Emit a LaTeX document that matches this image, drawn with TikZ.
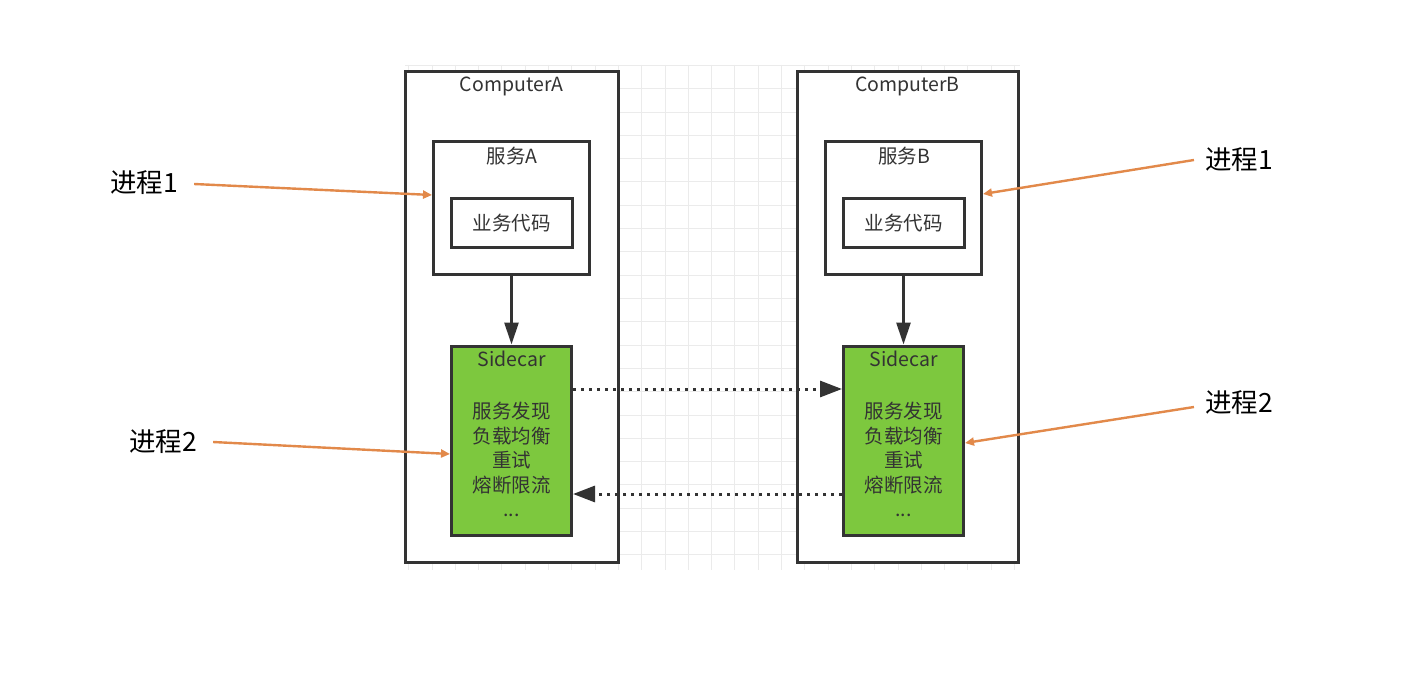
\documentclass[tikz,border=0pt]{standalone}
\usepackage{fontspec}
\setmainfont{Noto Sans CJK SC}
\usetikzlibrary{arrows.meta}
\definecolor{bd}{HTML}{333333}
\definecolor{sgreen}{HTML}{7DC83E}
\definecolor{org}{HTML}{E2894A}
\definecolor{gridc}{HTML}{EBEBEB}
\tikzset{
  box/.style={draw=bd, line width=3pt, fill=white, inner sep=0pt},
  greenbox/.style={draw=bd, line width=3pt, fill=sgreen, inner sep=0pt},
  txt/.style={text=bd, font=\fontsize{19.5}{24}\selectfont, inner sep=0pt},
  lbl/.style={text=black, font=\fontsize{26.5}{30}\selectfont, inner sep=0pt},
  solidarrow/.style={draw=bd, line width=2.8pt, -{Triangle[length=22pt,width=14pt]}},
  dotarrow/.style={draw=bd, line width=3pt, dash pattern=on 3pt off 5pt, -{Triangle[length=22pt,width=16pt]}},
  orgarrow/.style={draw=org, line width=2.4pt, -{Triangle[length=9pt,width=8pt]}},
  gridline/.style={draw=gridc, line width=1pt},
}
\begin{document}
\begin{tikzpicture}[x=1pt,y=-1pt]
\useasboundingbox[fill=white] (0,0) rectangle (1408,676);
% background grid
\foreach \i in {0,...,26} {
  \draw[gridline] ({408.7+\i*23.3},65) -- ({408.7+\i*23.3},570);
}
\foreach \j in {0,...,21} {
  \draw[gridline] (405,{65.5+\j*23.3}) -- (1020,{65.5+\j*23.3});
}
% computers
\node[box, minimum width=213pt, minimum height=490pt] (ca) at (511.5,317) {};
\node[box, minimum width=221pt, minimum height=490pt] (cb) at (907.5,317) {};
\node[txt] (cat) at (511.5,86) {ComputerA};
\node[txt] (cbt) at (907.5,86) {ComputerB};
% services
\node[box, minimum width=156pt, minimum height=133pt] (sa) at (511.5,208.5) {};
\node[box, minimum width=156pt, minimum height=133pt] (sb) at (903.5,208.5) {};
\node[txt] (sat) at (512,156) {服务A};
\node[txt] (sbt) at (904,156) {服务B};
\node[box, minimum width=121pt, minimum height=49pt, txt] (ya) at (511.5,223.5) {业务代码};
\node[box, minimum width=121pt, minimum height=49pt, txt] (yb) at (903.5,223.5) {业务代码};
% sidecars
\node[greenbox, minimum width=120pt, minimum height=189pt] (sca) at (511.5,440.5) {};
\node[greenbox, minimum width=120pt, minimum height=189pt] (scb) at (903.5,440.5) {};
\foreach \s/\cx in {a/511.5,b/903.5} {
  \node[txt] (sc\s t) at (\cx,359) {Sidecar};
  \node[txt, align=center, font=\fontsize{19.5}{24.6}\selectfont] (sc\s l) at (\cx,459.5) {服务发现\\负载均衡\\重试\\熔断限流\\...};
}
% arrows
\draw[solidarrow] (sa.south) -- (sca.north);
\draw[solidarrow] (sb.south) -- (scb.north);
\draw[dotarrow] (sca.east |- 0,389) -- (scb.west |- 0,389);
\draw[dotarrow] (scb.west |- 0,494) -- (sca.east |- 0,494);
% labels
\node[lbl] (p1l) at (144,183) {进程1};
\node[lbl] (p2l) at (163,442) {进程2};
\node[lbl] (p1r) at (1239,160) {进程1};
\node[lbl] (p2r) at (1239,403) {进程2};
\draw[orgarrow] (p1l.east) ++(16,1) -- (sa.west |- 0,195);
\draw[orgarrow] (p2l.east) ++(16,0) -- (sca.west |- 0,454);
\draw[orgarrow] (p1r.west) ++(-11,0) -- (sb.east |- 0,194);
\draw[orgarrow] (p2r.west) ++(-11,4) -- (scb.east |- 0,443);
\end{tikzpicture}
\end{document}
